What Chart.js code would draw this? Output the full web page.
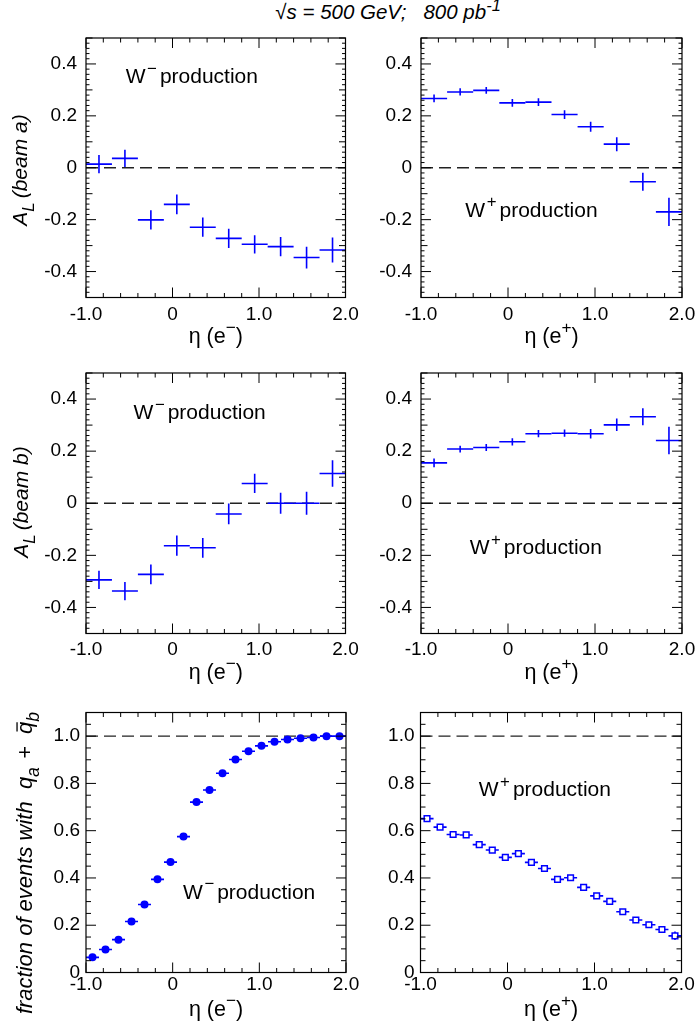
<!DOCTYPE html>
<html>
<head>
<meta charset="utf-8">
<script src="https://cdn.jsdelivr.net/npm/chart.js@4.4.0/dist/chart.umd.min.js"></script>
<style>
  html, body { margin: 0; padding: 0; background: #fff; overflow: hidden; }
  body { width: 700px; height: 1027px; position: relative; font-family: "Liberation Sans", Arial, sans-serif; }
  canvas { position: absolute; }
  #title { position: absolute; top: 0px; left: 0; width: 776px; text-align: center; font-size: 20.5px; font-style: italic; white-space: pre; color: #000; }
  #title sup { font-size: 0.8em; line-height: 0; }
</style>
</head>
<body>
<div id="title"><span style="font-style:normal">√</span>s = 500 GeV;   800 pb<sup>-1</sup></div>
<canvas id="pTL"></canvas>
<canvas id="pTR"></canvas>
<canvas id="pML"></canvas>
<canvas id="pMR"></canvas>
<canvas id="pBL"></canvas>
<canvas id="pBR"></canvas>
<script>
// eta bins for the asymmetry plots (bin width 0.3)
const etaAsym = [-0.85, -0.55, -0.25, 0.05, 0.35, 0.65, 0.95, 1.25, 1.55, 1.85];
const halfAsym = 0.15;

// A_L, beam a
const wmBeamA    = [0.014, 0.036, -0.201, -0.141, -0.229, -0.272, -0.295, -0.304, -0.346, -0.317];
const wmBeamAErr = [0.035, 0.033, 0.037, 0.038, 0.037, 0.037, 0.035, 0.037, 0.042, 0.048];
const wpBeamA    = [0.267, 0.292, 0.298, 0.250, 0.253, 0.205, 0.158, 0.091, -0.054, -0.170];
const wpBeamAErr = [0.015, 0.014, 0.013, 0.015, 0.015, 0.017, 0.019, 0.027, 0.035, 0.054];

// A_L, beam b
const wmBeamB    = [-0.294, -0.337, -0.273, -0.163, -0.171, -0.041, 0.076, 0.000, 0.000, 0.114];
const wmBeamBErr = [0.035, 0.035, 0.038, 0.039, 0.038, 0.040, 0.037, 0.040, 0.044, 0.051];
const wpBeamB    = [0.155, 0.208, 0.214, 0.236, 0.267, 0.269, 0.267, 0.301, 0.332, 0.241];
const wpBeamBErr = [0.017, 0.013, 0.013, 0.014, 0.014, 0.014, 0.018, 0.024, 0.033, 0.053];

// eta bins for the quark fraction plots (bin width 0.15)
const etaFrac = [-0.925, -0.775, -0.625, -0.475, -0.325, -0.175, -0.025, 0.125, 0.275, 0.425,
                 0.575, 0.725, 0.875, 1.025, 1.175, 1.325, 1.475, 1.625, 1.775, 1.925];
const halfFrac = 0.075;

const fracWm    = [0.064, 0.097, 0.139, 0.216, 0.288, 0.394, 0.467, 0.575, 0.721, 0.772,
                   0.843, 0.901, 0.936, 0.959, 0.976, 0.986, 0.991, 0.994, 1.000, 1.000];
const fracWmErr = [0.004, 0.004, 0.004, 0.004, 0.004, 0.004, 0.004, 0.004, 0.004, 0.004,
                   0.004, 0.004, 0.004, 0.004, 0.004, 0.004, 0.004, 0.004, 0.004, 0.004];
const fracWp    = [0.651, 0.615, 0.584, 0.582, 0.541, 0.518, 0.487, 0.503, 0.466, 0.440,
                   0.394, 0.401, 0.360, 0.324, 0.301, 0.257, 0.222, 0.202, 0.182, 0.155];
const fracWpErr = [0.008, 0.008, 0.008, 0.008, 0.008, 0.008, 0.008, 0.008, 0.009, 0.009,
                   0.009, 0.009, 0.010, 0.010, 0.011, 0.011, 0.012, 0.013, 0.014, 0.018];

// tick labels
const etaTicks  = [-1, 0, 1, 2];
const asymTicks = [-0.4, -0.2, 0, 0.2, 0.4];
const fracTicks = [0, 0.2, 0.4, 0.6, 0.8, 1.0];

const FONT = '"Liberation Sans", Arial, Helvetica, sans-serif';
const BLUE = '#0000ff';
Chart.defaults.font.family = FONT;
Chart.defaults.font.size = 19;
Chart.defaults.color = '#000';

const fmt = v => (v === 0 ? '0' : Number(v).toFixed(1));

// text with sub/superscripts, drawn left to right from (x, y) on the baseline
function richWidth(ctx, parts, size) {
  let w = 0;
  for (const s of parts) {
    const fs = (s.sub || s.sup) ? size * 0.8 : size;
    ctx.font = (s.it ? 'italic ' : '') + fs + 'px ' + FONT;
    w += ctx.measureText(s.t).width + (s.gap || 0);
  }
  return w;
}
function richDraw(ctx, parts, x, y, size) {
  for (const s of parts) {
    const fs = (s.sub || s.sup) ? size * 0.8 : size;
    ctx.font = (s.it ? 'italic ' : '') + fs + 'px ' + FONT;
    const dy = s.sub ? size * 0.32 : s.sup ? -size * 0.45 : 0;
    const w = ctx.measureText(s.t).width;
    ctx.fillText(s.t, x, y + dy);
    if (s.bar) {
      ctx.beginPath();
      ctx.lineWidth = 1.3;
      ctx.moveTo(x + w * 0.2, y + dy - fs * 0.68);
      ctx.lineTo(x + w * 0.95, y + dy - fs * 0.68);
      ctx.stroke();
    }
    x += w + (s.gap || 0);
  }
}

const yTitles = {
  a: [{t: 'A', it: true}, {t: 'L', it: true, sub: true, gap: 4}, {t: '(beam a)', it: true}],
  b: [{t: 'A', it: true}, {t: 'L', it: true, sub: true, gap: 4}, {t: '(beam b)', it: true}],
  f: [{t: 'fraction of events with  q', it: true}, {t: 'a', it: true, sub: true, gap: 2},
      {t: ' +  ', it: true}, {t: 'q', it: true, bar: true}, {t: 'b', it: true, sub: true}]
};

const panels = [
  { id: 'pTL', x: 0, y: 10, w: 370, h: 345, area: {left: 86, top: 38, right: 345.5, bottom: 297.5},
    eta: etaAsym, half: halfAsym, val: wmBeamA, err: wmBeamAErr, kind: 'asym',
    sign: '−', note: {x: -0.54, y: 0.326}, xPad: 6, titleDy: 45.5,
    yTitle: {key: 'a', bx: 27, cy: 170, size: 21} },
  { id: 'pTR', x: 340, y: 10, w: 370, h: 345, area: {left: 421, top: 38, right: 682, bottom: 297.5},
    eta: etaAsym, half: halfAsym, val: wpBeamA, err: wpBeamAErr, kind: 'asym',
    sign: '+', note: {x: -0.49, y: -0.188}, xPad: 6, titleDy: 45.5 },
  { id: 'pML', x: 0, y: 345, w: 370, h: 345, area: {left: 86, top: 373, right: 345.5, bottom: 633.5},
    eta: etaAsym, half: halfAsym, val: wmBeamB, err: wmBeamBErr, kind: 'asym',
    sign: '−', note: {x: -0.45, y: 0.322}, xPad: 5, titleDy: 45.5,
    yTitle: {key: 'b', bx: 28, cy: 502, size: 21} },
  { id: 'pMR', x: 340, y: 345, w: 370, h: 345, area: {left: 421, top: 373, right: 682, bottom: 633.5},
    eta: etaAsym, half: halfAsym, val: wpBeamB, err: wpBeamBErr, kind: 'asym',
    sign: '+', note: {x: -0.44, y: -0.196}, xPad: 5, titleDy: 45.5 },
  { id: 'pBL', x: 0, y: 684, w: 370, h: 343, area: {left: 86, top: 712.5, right: 346, bottom: 972.5},
    eta: etaFrac, half: halfFrac, val: fracWm, err: fracWmErr, kind: 'frac', marker: 'circle',
    sign: '−', note: {x: 0.12, y: 0.312}, xPad: 1, titleDy: 43.5,
    yTitle: {key: 'f', bx: 32, cy: 863, size: 22} },
  { id: 'pBR', x: 340, y: 684, w: 370, h: 343, area: {left: 420.5, top: 712.5, right: 681.5, bottom: 972.5},
    eta: etaFrac, half: halfFrac, val: fracWp, err: fracWpErr, kind: 'frac', marker: 'rect',
    sign: '+', note: {x: -0.33, y: 0.746}, xPad: 1, titleDy: 43.5 }
];

const yRange = {
  asym: {min: -0.5, max: 0.5, ticks: asymTicks, ref: 0, step: 0.02, mid: 5, major: 10},
  frac: {min: 0, max: 1.1, ticks: fracTicks, ref: 1.0, step: 0.05, mid: 0, major: 4}
};

function panelPlugin(p) {
  const yr = yRange[p.kind];
  return {
    id: 'panelDecor',
    // error crosses go under the markers
    beforeDatasetDraw(chart, args) {
      if (args.index !== 1) return;
      const ctx = chart.ctx, xs = chart.scales.x, ys = chart.scales.y;
      ctx.save();
      ctx.strokeStyle = BLUE;
      ctx.lineWidth = 1.6;
      p.eta.forEach((e, i) => {
        const y = ys.getPixelForValue(p.val[i]);
        const x = xs.getPixelForValue(e);
        ctx.beginPath();
        ctx.moveTo(xs.getPixelForValue(e - p.half), y);
        ctx.lineTo(xs.getPixelForValue(e + p.half), y);
        ctx.moveTo(x, ys.getPixelForValue(p.val[i] - p.err[i]));
        ctx.lineTo(x, ys.getPixelForValue(p.val[i] + p.err[i]));
        ctx.stroke();
      });
      ctx.restore();
    },
    afterDraw(chart) {
      const ctx = chart.ctx, a = chart.chartArea, xs = chart.scales.x, ys = chart.scales.y;
      ctx.save();
      ctx.strokeStyle = '#000';
      ctx.fillStyle = '#000';
      // frame
      ctx.lineWidth = 1.2;
      ctx.strokeRect(a.left, a.top, a.right - a.left, a.bottom - a.top);
      // inward ticks on all four sides
      ctx.lineWidth = 1;
      ctx.beginPath();
      for (let k = -5; k <= 10; k++) {
        const px = xs.getPixelForValue(k * 0.2);
        const len = k % 5 === 0 ? 10 : 4.5;
        ctx.moveTo(px, a.bottom); ctx.lineTo(px, a.bottom - len);
        ctx.moveTo(px, a.top); ctx.lineTo(px, a.top + len);
      }
      const n0 = Math.round(yr.min / yr.step), n1 = Math.round(yr.max / yr.step);
      for (let k = n0; k <= n1; k++) {
        const py = ys.getPixelForValue(k * yr.step);
        let len = p.kind === 'frac' ? 5 : 3.5;
        if (k % yr.major === 0) len = 10;
        else if (yr.mid && k % yr.mid === 0) len = 6.5;
        ctx.moveTo(a.left, py); ctx.lineTo(a.left + len, py);
        ctx.moveTo(a.right, py); ctx.lineTo(a.right - len, py);
      }
      ctx.stroke();

      // W production label
      ctx.textBaseline = 'alphabetic';
      ctx.textAlign = 'left';
      richDraw(ctx, [{t: 'W', gap: 1.5}, {t: p.sign, sup: true, gap: 3}, {t: 'production'}],
        xs.getPixelForValue(p.note.x), ys.getPixelForValue(p.note.y), 21);

      // eta axis title
      const xt = [{t: 'η (e'}, {t: p.sign, sup: true}, {t: ')'}];
      const xw = richWidth(ctx, xt, 21.5);
      richDraw(ctx, xt, (a.left + a.right) / 2 - xw / 2, a.bottom + p.titleDy, 21.5);

      // vertical axis title
      if (p.yTitle) {
        const parts = yTitles[p.yTitle.key];
        const w = richWidth(ctx, parts, p.yTitle.size);
        ctx.translate(p.yTitle.bx - p.x, p.yTitle.cy - p.y);
        ctx.rotate(-Math.PI / 2);
        richDraw(ctx, parts, -w / 2, 0, p.yTitle.size);
      }
      ctx.restore();
    }
  };
}

function makeChart(p) {
  const yr = yRange[p.kind];
  const cv = document.getElementById(p.id);
  cv.width = p.w;
  cv.height = p.h;
  cv.style.left = p.x + 'px';
  cv.style.top = p.y + 'px';
  const yW = p.area.left - p.x;
  const xH = p.y + p.h - p.area.bottom;
  const points = p.eta.map((e, i) => ({x: e, y: p.val[i]}));

  return new Chart(cv, {
    type: 'scatter',
    data: {
      datasets: [
        { type: 'line', label: 'ref', data: [{x: -1, y: yr.ref}, {x: 2, y: yr.ref}],
          borderColor: '#222', borderWidth: 1.3, borderDash: [12, 6], pointRadius: 0, order: 2 },
        { label: 'data', data: points, order: 1,
          pointStyle: p.marker || 'circle',
          pointRadius: p.marker ? 4 : 0,
          backgroundColor: p.marker === 'rect' ? '#fff' : BLUE,
          borderColor: BLUE,
          borderWidth: p.marker === 'rect' ? 1.5 : 0 }
      ]
    },
    options: {
      responsive: false,
      animation: false,
      events: [],
      layout: { padding: { left: 0, top: p.area.top - p.y, right: p.x + p.w - p.area.right, bottom: 0 } },
      plugins: { legend: { display: false }, tooltip: { enabled: false } },
      scales: {
        x: {
          type: 'linear', min: -1, max: 2,
          afterFit: s => { s.height = xH; },
          afterBuildTicks: s => { s.ticks = etaTicks.map(v => ({value: v})); },
          grid: { display: false, drawTicks: false },
          border: { display: false },
          ticks: { padding: p.xPad, maxRotation: 0, autoSkip: false, callback: fmt }
        },
        y: {
          type: 'linear', min: yr.min, max: yr.max,
          afterFit: s => { s.width = yW; },
          afterBuildTicks: s => { s.ticks = yr.ticks.map(v => ({value: v})); },
          grid: { display: false, drawTicks: false },
          border: { display: false },
          ticks: { padding: p.kind === 'frac' ? 6 : 9, autoSkip: false, callback: fmt }
        }
      }
    },
    plugins: [panelPlugin(p)]
  });
}

panels.forEach(makeChart);
</script>
</body>
</html>
